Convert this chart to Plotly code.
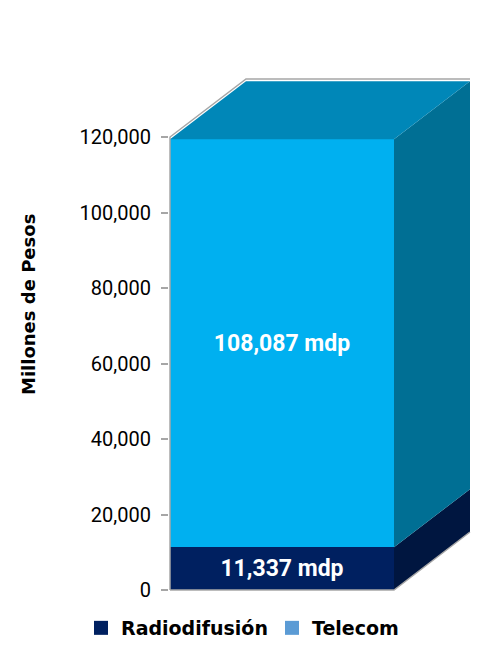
import plotly.graph_objects as go

# ---- data ----
categories = ["Total"]
series_names = ["Radiodifusión", "Telecom"]
radiodifusion = [11337]
telecom = [108087]
y_tick_values = [0, 20000, 40000, 60000, 80000, 100000, 120000]
unit_suffix = "mdp"
y_title = "Millones de Pesos"

# ---- styles ----
front_colors = ["#002060", "#00B0F0"]
side_colors = ["#001640", "#006F94"]
top_color = "#0087B8"
legend_colors = ["#002060", "#5B9BD5"]
wall_color = "#A6A6A6"

# ---- geometry (pixels -> data units) ----
PX_PER_UNIT_Y = 453 / 120000.0      # y pixel scale
PX_PER_UNIT_X = 224.0               # bar front width in px (bar width = 1)
PLOT_LEFT, PLOT_RIGHT = 169, 480
PLOT_TOP, PLOT_BOTTOM = 70, 592
ZERO_PX = 590
DEPTH_X = 76 / PX_PER_UNIT_X
DEPTH_Y = 58 / PX_PER_UNIT_Y
AXIS_TOP = y_tick_values[-1]

y_range = [-(PLOT_BOTTOM - ZERO_PX) / PX_PER_UNIT_Y, (ZERO_PX - PLOT_TOP) / PX_PER_UNIT_Y]
x_range = [-(170 - PLOT_LEFT) / PX_PER_UNIT_X, (PLOT_RIGHT - 170) / PX_PER_UNIT_X]

series_values = [radiodifusion, telecom]

fig = go.Figure()

# front faces (stacked bars)
for name, vals, col in zip(series_names, series_values, front_colors):
    fig.add_trace(go.Bar(
        x=[0.5], y=vals, width=1.0, name=name, showlegend=False,
        marker=dict(color=col, line=dict(width=0)),
        texttemplate="%{y:,} " + unit_suffix,
        textposition="inside", insidetextanchor="middle", textangle=0,
        textfont=dict(family="Roboto", size=23, color="white", weight="bold"),
        hovertext=categories, constraintext="none",
    ))

# side faces
base = 0
for name, vals, col in zip(series_names, series_values, side_colors):
    top = base + vals[0]
    fig.add_trace(go.Scatter(
        x=[1, 1 + DEPTH_X, 1 + DEPTH_X, 1, 1],
        y=[base, base + DEPTH_Y, top + DEPTH_Y, top, base],
        mode="lines", fill="toself", fillcolor=col,
        line=dict(width=0, color=col), showlegend=False, hoverinfo="skip",
    ))
    base = top

# top face
total = base
fig.add_trace(go.Scatter(
    x=[0, DEPTH_X, 1 + DEPTH_X, 1, 0],
    y=[total, total + DEPTH_Y, total + DEPTH_Y, total, total],
    mode="lines", fill="toself", fillcolor=top_color,
    line=dict(width=0, color=top_color), showlegend=False, hoverinfo="skip",
))

# wall / floor edges
fig.add_trace(go.Scatter(
    x=[0, 0, DEPTH_X, 1 + DEPTH_X],
    y=[0, AXIS_TOP, AXIS_TOP + DEPTH_Y, AXIS_TOP + DEPTH_Y],
    mode="lines", line=dict(color=wall_color, width=1.5),
    showlegend=False, hoverinfo="skip",
))
fig.add_trace(go.Scatter(
    x=[0, 1, 1 + DEPTH_X],
    y=[0, 0, DEPTH_Y],
    mode="lines", line=dict(color=wall_color, width=1.5),
    showlegend=False, hoverinfo="skip",
))

# legend entries
for name, col in zip(series_names, legend_colors):
    fig.add_trace(go.Scatter(
        x=[None], y=[None], mode="markers", name=name,
        marker=dict(symbol="square", size=14, color=col),
    ))

fig.update_layout(
    width=500, height=659,
    margin=dict(l=PLOT_LEFT, r=500 - PLOT_RIGHT, t=PLOT_TOP, b=659 - PLOT_BOTTOM, autoexpand=False),
    paper_bgcolor="white", plot_bgcolor="white",
    barmode="stack", bargap=0,
    showlegend=True,
    legend=dict(
        orientation="h", traceorder="normal",
        x=(81 - PLOT_LEFT) / (PLOT_RIGHT - PLOT_LEFT),
        y=(PLOT_BOTTOM - 628) / (PLOT_BOTTOM - PLOT_TOP),
        xanchor="left", yanchor="middle",
        font=dict(family="DejaVu Sans", size=19, color="#000000", weight="bold"),
        entrywidth=146, bgcolor="rgba(0,0,0,0)",
    ),
    xaxis=dict(range=x_range, visible=False, fixedrange=True),
    yaxis=dict(
        range=y_range, tickvals=y_tick_values, tickformat=",",
        showgrid=False, zeroline=False, showline=False,
        ticks="outside", ticklen=7, tickcolor=wall_color, tickwidth=1.5,
        ticklabelstandoff=6, fixedrange=True,
        tickfont=dict(family="Roboto", size=20, color="#000000"),
    ),
    annotations=[dict(
        text=y_title, textangle=-90, xref="paper", yref="paper",
        x=(28 - PLOT_LEFT) / (PLOT_RIGHT - PLOT_LEFT),
        y=(PLOT_BOTTOM - 305) / (PLOT_BOTTOM - PLOT_TOP),
        xanchor="center", yanchor="middle", showarrow=False,
        font=dict(family="DejaVu Sans", size=18, color="#000000", weight="bold"),
    )],
)

fig.write_html("out.html", config={"displayModeBar": False},
               post_script="document.body.style.margin='0';")
